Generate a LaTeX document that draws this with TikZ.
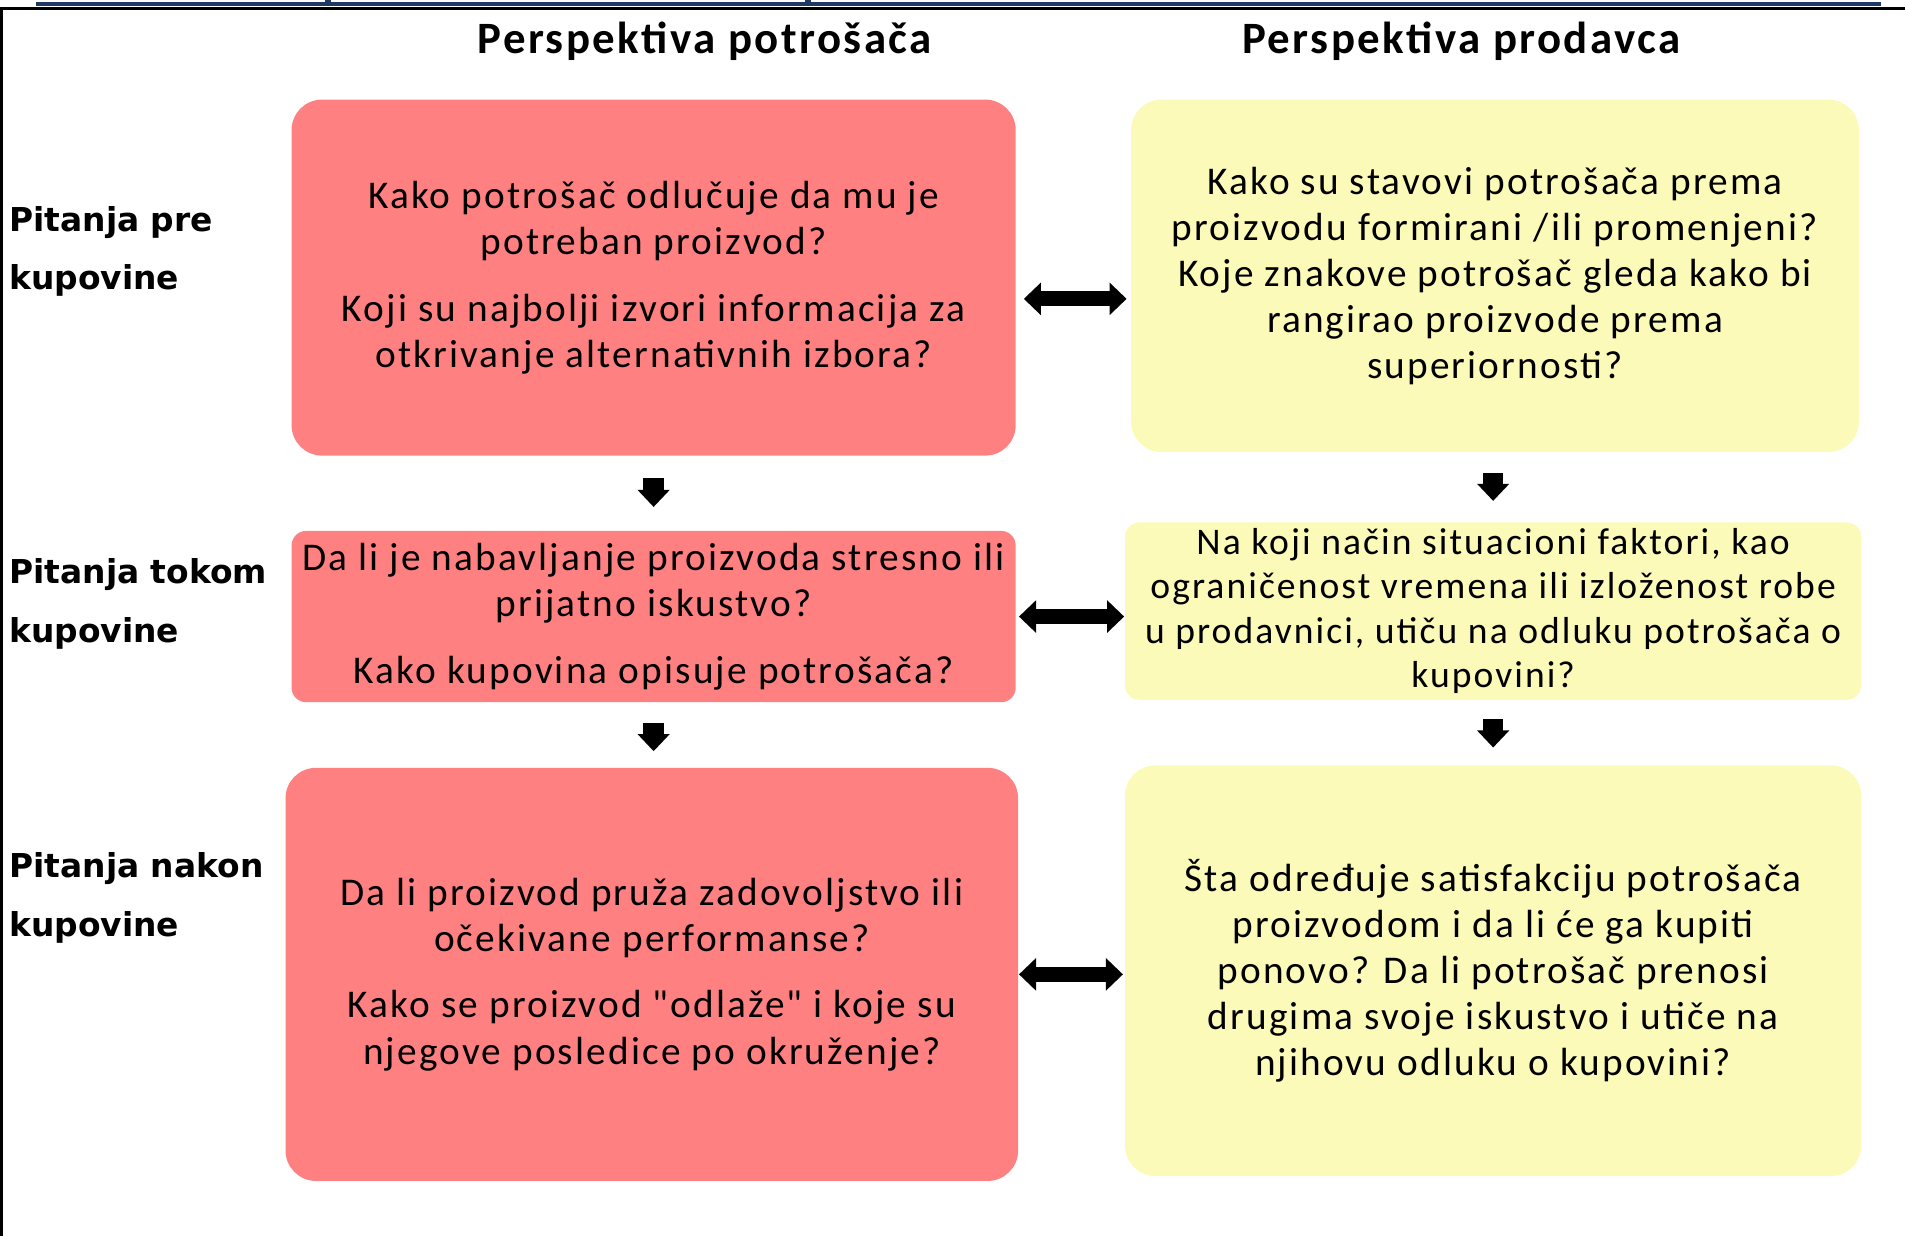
\documentclass[tikz,border=0pt]{standalone}
\usepackage{fontspec}
\setmainfont{Carlito}
\newfontfamily\boxfont[LetterSpace=5.5]{Carlito}
\newfontfamily\headfont[LetterSpace=5.5]{Carlito}
\newfontfamily\rowfont{DejaVu Sans}
\usetikzlibrary{arrows.meta}

\definecolor{potred}{RGB}{255,128,128}
\definecolor{prodyellow}{RGB}{251,250,184}
\definecolor{topnavy}{RGB}{31,56,100}

\tikzset{
  qbox/.style={rounded corners=0.25cm, inner sep=0pt, align=center,
    font=\boxfont\fontsize{9.2}{10.8}\selectfont},
  redbox/.style={qbox, fill=potred},
  yelbox/.style={qbox, fill=prodyellow},
  headlabel/.style={font=\headfont\bfseries\fontsize{10.5}{12}\selectfont},
  rowlabel/.style={anchor=west, align=left, inner sep=0pt,
    font=\rowfont\bfseries\fontsize{7.7}{13.7}\selectfont},
  bothways/.style={line width=3.5pt,
    {Triangle[width=7.4pt,length=4pt]}-{Triangle[width=7.4pt,length=4pt]}},
  downward/.style={line width=4.8pt, -{Triangle[width=7.3pt,length=4pt]}}
}

\begin{document}
\begin{tikzpicture}

\def \xred  {5.38}
\def \xyel  {12.29}

\useasboundingbox (0,0) rectangle (15.68,-10.17);

% frame
\draw [topnavy, line width=0.95pt] (0.30,-0.03) -- (15.48,-0.03);
\draw [topnavy, line width=1.4pt] (2.70,0) -- (2.70,-0.05);
\draw [topnavy, line width=1.4pt] (6.65,0) -- (6.65,-0.05);
\draw [black, line width=0.5pt] (0,-0.07) -- (15.68,-0.07);
\draw [black, line width=0.7pt] (0.015,-0.07) -- (0.015,-10.17);

% column headers
\node [headlabel] (hpot)  at (5.80,-0.34)  {Perspektiva potrošača};
\node [headlabel] (hprod) at (12.03,-0.34) {Perspektiva prodavca};

% row labels
\node [rowlabel] (lpre)   at (0.07,-2.07) {Pitanja pre\\kupovine};
\node [rowlabel] (ltokom) at (0.07,-4.97) {Pitanja tokom\\kupovine};
\node [rowlabel] (lnakon) at (0.07,-7.39) {Pitanja nakon\\kupovine};

% consumer boxes
\node [redbox, minimum width=5.96cm, minimum height=2.93cm] (r1) at (\xred,-2.285)
  {Kako potrošač odlučuje da mu je\\potreban proizvod?\\[4.8pt]
   Koji su najbolji izvori informacija za\\otkrivanje alternativnih izbora?};
\node [redbox, rounded corners=0.12cm, minimum width=5.96cm, minimum height=1.41cm] (r2) at (\xred,-5.075)
  {Da li je nabavljanje proizvoda stresno ili\\prijatno iskustvo?\\[4.8pt]
   Kako kupovina opisuje potrošača?};
\node [redbox, minimum width=6.03cm, minimum height=3.40cm] (r3) at (5.365,-8.02)
  {Da li proizvod pruža zadovoljstvo ili\\očekivane performanse?\\[4.8pt]
   Kako se proizvod "odlaže" i koje su\\njegove posledice po okruženje?};

% seller boxes
\node [yelbox, minimum width=5.99cm, minimum height=2.90cm] (y1) at (12.305,-2.27)
  {Kako su stavovi potrošača prema\\proizvodu formirani /ili promenjeni?\\
   Koje znakove potrošač gleda kako bi\\rangirao proizvode prema\\superiornosti?};
\node [yelbox, rounded corners=0.12cm, minimum width=6.06cm, minimum height=1.46cm,
  font=\boxfont\fontsize{8.8}{10.4}\selectfont] (y2) at (\xyel,-5.03)
  {Na koji način situacioni faktori, kao\\ograničenost vremena ili izloženost robe\\
   u prodavnici, utiču na odluku potrošača o\\kupovini?};
\node [yelbox, minimum width=6.06cm, minimum height=3.38cm] (y3) at (\xyel,-7.99)
  {Šta određuje satisfakciju potrošača\\proizvodom i da li će ga kupiti\\
   ponovo? Da li potrošač prenosi\\drugima svoje iskustvo i utiče na\\njihovu odluku o kupovini?};

% two-way arrows
\coordinate (a1) at ([yshift=-0.175cm]r1.east);
\draw [bothways, shorten <=0.06cm, shorten >=0.03cm] (a1) -- (a1 -| y1.west);
\draw [bothways, shorten <=0.02cm] (r2.east) -- (r2.east -| y2.west);
\draw [bothways, shorten >=0.01cm] (r3.east) -- (r3.east -| y3.west);

% down arrows
\draw [downward, shorten <=0.18cm, shorten >=0.19cm] (r1.south) -- (r2.north);
\draw [downward, shorten <=0.16cm, shorten >=0.13cm] (r2.south) -- (r2.south |- r3.north);
\draw [downward, shorten <=0.17cm, shorten >=0.17cm] (y2.north |- y1.south) -- (y2.north);
\draw [downward, shorten <=0.15cm, shorten >=0.14cm] (y2.south) -- (y2.south |- y3.north);

\end{tikzpicture}
\end{document}
